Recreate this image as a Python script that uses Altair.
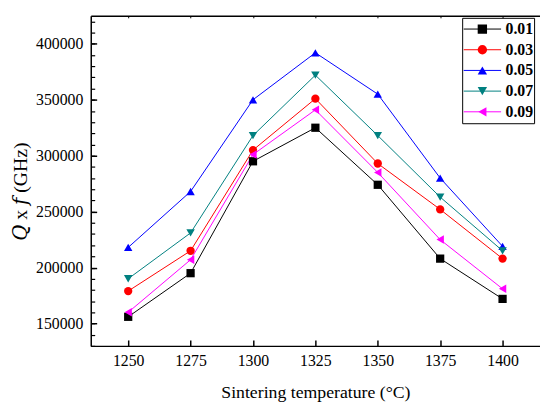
import altair as alt
import pandas as pd

temps = [1250, 1275, 1300, 1325, 1350, 1375, 1400]
series = ["0.01", "0.03", "0.05", "0.07", "0.09"]
q_001 = [156000, 195000, 295000, 325000, 274000, 208000, 172000]
q_003 = [179000, 215000, 305000, 351000, 293000, 252000, 208000]
q_005 = [218000, 268000, 350000, 392000, 355000, 280000, 219000]
q_007 = [190000, 231000, 318000, 372000, 318000, 263000, 215000]
q_009 = [160000, 207000, 301000, 341000, 285000, 225000, 181000]
y_major = [150000, 200000, 250000, 300000, 350000, 400000]
y_minor = list(range(130000, 425001, 10000))

colors = ["#000000", "#ff0000", "#0000ff", "#008080", "#ff00ff"]
shapes = ["square", "circle", "triangle-up", "triangle-down", "triangle-left"]
sizes = [70, 75, 100, 100, 100]

rows = []
for s, vals in zip(series, [q_001, q_003, q_005, q_007, q_009]):
    for t, v in zip(temps, vals):
        rows.append({"temp": t, "q": v, "series": s})
df = pd.DataFrame(rows)

FONT = "Liberation Serif"
x_scale = alt.Scale(domain=[1235, 1415], nice=False, zero=False)
y_scale = alt.Scale(domain=[130000, 425000], nice=False, zero=False)
color_scale = alt.Scale(domain=series, range=colors)

leg_common = dict(orient="none", title=None, clipHeight=20.8, rowPadding=0,
                  padding=1, labelFont=FONT, labelFontSize=16,
                  labelFontWeight="bold", labelColor="black", labelOffset=4)

legend_lines = alt.Legend(legendX=377, legendY=2, symbolType="stroke",
                          symbolSize=1444, symbolStrokeWidth=1,
                          strokeColor="black", **leg_common)
legend_points = alt.Legend(legendX=388.5, legendY=2, symbolSize=90,
                           symbolStrokeWidth=0, labelExpr="''", **leg_common)

lines = alt.Chart().mark_line(strokeWidth=1).encode(
    x=alt.X("temp:Q", scale=x_scale, axis=alt.Axis(
        orient="bottom", values=temps, format="d", ticks=False, tickSize=0,
        labelPadding=7, domainWidth=1.5, domainColor="black", labelFont=FONT,
        labelFontSize=16, labelColor="black",
        title="Sintering temperature (°C)", titleFont=FONT,
        titleFontSize=18, titleFontWeight="normal", titleColor="black",
        titlePadding=15, grid=False)),
    y=alt.Y("q:Q", scale=y_scale, axis=alt.Axis(
        orient="left", values=y_major, format="d", ticks=False, tickSize=0,
        labelPadding=8, domainWidth=1.5, domainColor="black", labelFont=FONT,
        labelFontSize=16, labelColor="black", title="𝑄 x 𝑓 (GHz)",
        titleFont="Liberation Serif, DejaVu Serif, serif", titleFontSize=20,
        titleFontWeight="normal", titleColor="black", titlePadding=5,
        titleY=178, grid=False)),
    color=alt.Color("series:N", scale=color_scale, legend=legend_lines),
)

points = alt.Chart().mark_point(filled=True, opacity=1).encode(
    x=alt.X("temp:Q", scale=x_scale, axis=alt.Axis(
        orient="bottom", offset=-6, values=temps, tickSize=6, tickWidth=1.5,
        tickColor="black", labels=False, domain=False, title=None, grid=False)),
    y=alt.Y("q:Q", scale=y_scale, axis=alt.Axis(
        orient="left", offset=-6, values=y_major, tickSize=6, tickWidth=1.5,
        tickColor="black", labels=False, domain=False, title=None, grid=False)),
    color=alt.Color("series:N", scale=color_scale, legend=legend_points),
    shape=alt.Shape("series:N", scale=alt.Scale(domain=series, range=shapes),
                    legend=legend_points),
    size=alt.Size("series:N", scale=alt.Scale(domain=series, range=sizes),
                  legend=None),
)

minor = alt.Chart().mark_line(opacity=0).encode(
    x=alt.X("temp:Q", scale=x_scale, axis=alt.Axis(
        orient="top", values=temps, ticks=False, labels=False, domain=True,
        domainWidth=1.5, domainColor="black", title=None, grid=False)),
    y=alt.Y("q:Q", scale=y_scale, axis=alt.Axis(
        orient="left", offset=-4, values=y_minor, tickSize=4, tickWidth=1.2,
        tickColor="black", labels=False, domain=False, title=None, grid=False)),
    detail="series:N",
)

top_ticks = alt.Chart().mark_line(opacity=0).encode(
    x=alt.X("temp:Q", scale=x_scale, axis=alt.Axis(
        orient="top", offset=-2, values=temps, tickSize=2, tickWidth=1,
        tickColor="black", labels=False, domain=False, title=None, grid=False)),
    y=alt.Y("q:Q", scale=y_scale, axis=None),
    detail="series:N",
)

chart = alt.layer(lines, points, minor, top_ticks, data=df).resolve_axis(
    x="independent", y="independent"
).resolve_legend(
    color="independent", shape="independent"
).properties(
    width=456, height=335,
    autosize=alt.AutoSizeParams(type="none"),
    padding={"left": 84, "top": 5, "right": 0, "bottom": 55},
).configure(
    font=FONT
).configure_axis(
    labelFont=FONT, titleFont=FONT
).configure_legend(
    labelFont=FONT
).configure_view(stroke="transparent")

chart.save("out.html", embed_options={"renderer": "svg", "actions": False})
